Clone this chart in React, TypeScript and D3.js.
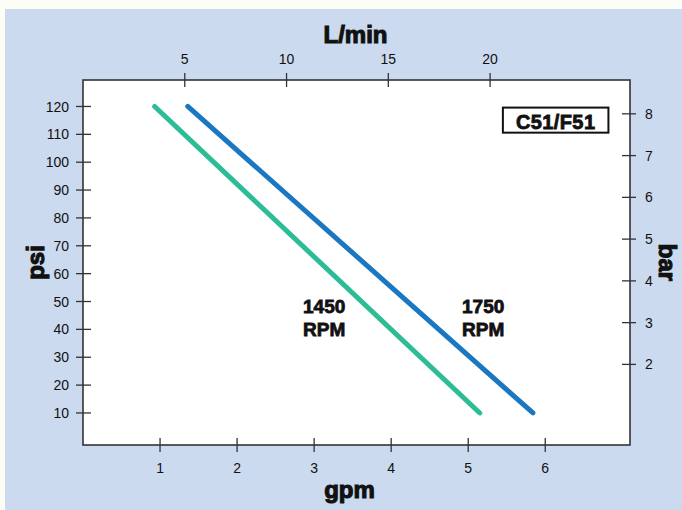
import React from "react";
import * as d3 from "d3";

const gpmTicks = [1, 2, 3, 4, 5, 6];
const lpmTicks = [5, 10, 15, 20];
const psiTicks = [10, 20, 30, 40, 50, 60, 70, 80, 90, 100, 110, 120];
const barTicks = [2, 3, 4, 5, 6, 7, 8];

const rpm1450Gpm = [0.93, 5.15];
const rpm1450Psi = [120, 10];
const rpm1750Gpm = [1.36, 5.84];
const rpm1750Psi = [120, 10];

const W = 682, H = 510;
const L = 83, R = 630, T = 80, B = 445;
const GPM_TO_LPM = 3.785;

export default function App() {
  const x = d3.scaleLinear().domain([0, 7.1]).range([L, R]);
  const xL = d3.scaleLinear().domain([0, 7.1 * GPM_TO_LPM]).range([L, R]);
  const y = d3.scaleLinear().domain([-1.5, 129.5]).range([B, T]);
  const yB = d3.scaleLinear().domain([0.07, 8.81]).range([B, T]);

  const line = d3.line<[number, number]>().x(d => x(d[0])).y(d => y(d[1]));
  const s1450: [number, number][] = rpm1450Gpm.map((g, i) => [g, rpm1450Psi[i]]);
  const s1750: [number, number][] = rpm1750Gpm.map((g, i) => [g, rpm1750Psi[i]]);

  const tickFont = { fontFamily: "'Liberation Sans', Arial, sans-serif", fontSize: 14, fill: "#111" };
  const titleFont = { fontFamily: "'Liberation Sans', Arial, sans-serif", fontSize: 24, fontWeight: 700, fill: "#111", stroke: "#111", strokeWidth: 1.1 };
  const lblFont = { fontFamily: "'Liberation Sans', Arial, sans-serif", fontSize: 19, fontWeight: 700, fill: "#111", stroke: "#111", strokeWidth: 0.8 };

  const midY = (T + B) / 2;

  return (
    <svg width={W} height={H} style={{ position: "absolute", left: 0, top: 0 }}>
      <rect x={0} y={0} width={W} height={H} fill="#fdfdf8" />
      <rect x={5} y={9} width={W - 5} height={H - 9} fill="#cbdaef" />
      <rect x={L} y={T} width={R - L} height={B - T} fill="#ffffff" stroke="#333" strokeWidth={1.6} />

      {gpmTicks.map(t => (
        <g key={"g" + t}>
          <line x1={x(t)} x2={x(t)} y1={B - 7} y2={B + 7} stroke="#333" strokeWidth={1.3} />
          <text x={x(t)} y={473} textAnchor="middle" style={tickFont}>{t}</text>
        </g>
      ))}
      <text x={(L + R) / 2 - 7} y={498} textAnchor="middle" style={titleFont}>gpm</text>

      {lpmTicks.map(t => (
        <g key={"l" + t}>
          <line x1={xL(t)} x2={xL(t)} y1={T - 7} y2={T + 7} stroke="#333" strokeWidth={1.3} />
          <text x={xL(t)} y={64} textAnchor="middle" style={tickFont}>{t}</text>
        </g>
      ))}
      <text x={(L + R) / 2 - 1} y={43} textAnchor="middle" style={titleFont}>L/min</text>

      {psiTicks.map(t => (
        <g key={"p" + t}>
          <line x1={L - 7} x2={L + 8} y1={y(t)} y2={y(t)} stroke="#333" strokeWidth={1.3} />
          <text x={69} y={y(t)} dy="0.36em" textAnchor="end" style={tickFont}>{t}</text>
        </g>
      ))}
      <text transform={`translate(44,${midY}) rotate(-90)`} textAnchor="middle" style={titleFont}>psi</text>

      {barTicks.map(t => (
        <g key={"b" + t}>
          <line x1={R - 8} x2={R + 6} y1={yB(t)} y2={yB(t)} stroke="#333" strokeWidth={1.3} />
          <text x={645} y={yB(t)} dy="0.36em" textAnchor="start" style={tickFont}>{t}</text>
        </g>
      ))}
      <text transform={`translate(659,${midY}) rotate(90)`} textAnchor="middle" style={titleFont}>bar</text>

      <path d={line(s1450) || ""} fill="none" stroke="#2dbd96" strokeWidth={5} strokeLinecap="round" />
      <path d={line(s1750) || ""} fill="none" stroke="#1a78c2" strokeWidth={5} strokeLinecap="round" />

      <text x={x(2.856)} y={y(45.9)} style={lblFont}>
        <tspan x={x(2.856)}>1450</tspan>
        <tspan x={x(2.856)} dy={23}>RPM</tspan>
      </text>
      <text x={x(4.92)} y={y(45.9)} style={lblFont}>
        <tspan x={x(4.92)}>1750</tspan>
        <tspan x={x(4.92)} dy={23}>RPM</tspan>
      </text>

      <rect x={x(5.45)} y={y(119.6)} width={x(6.82) - x(5.45)} height={y(110.6) - y(119.6)} fill="#fff" stroke="#111" strokeWidth={2} />
      <text x={(x(5.45) + x(6.82)) / 2} y={y(111.8)} textAnchor="middle" style={{ ...lblFont, fontSize: 20, letterSpacing: 0.4 }}>C51/F51</text>
    </svg>
  );
}
